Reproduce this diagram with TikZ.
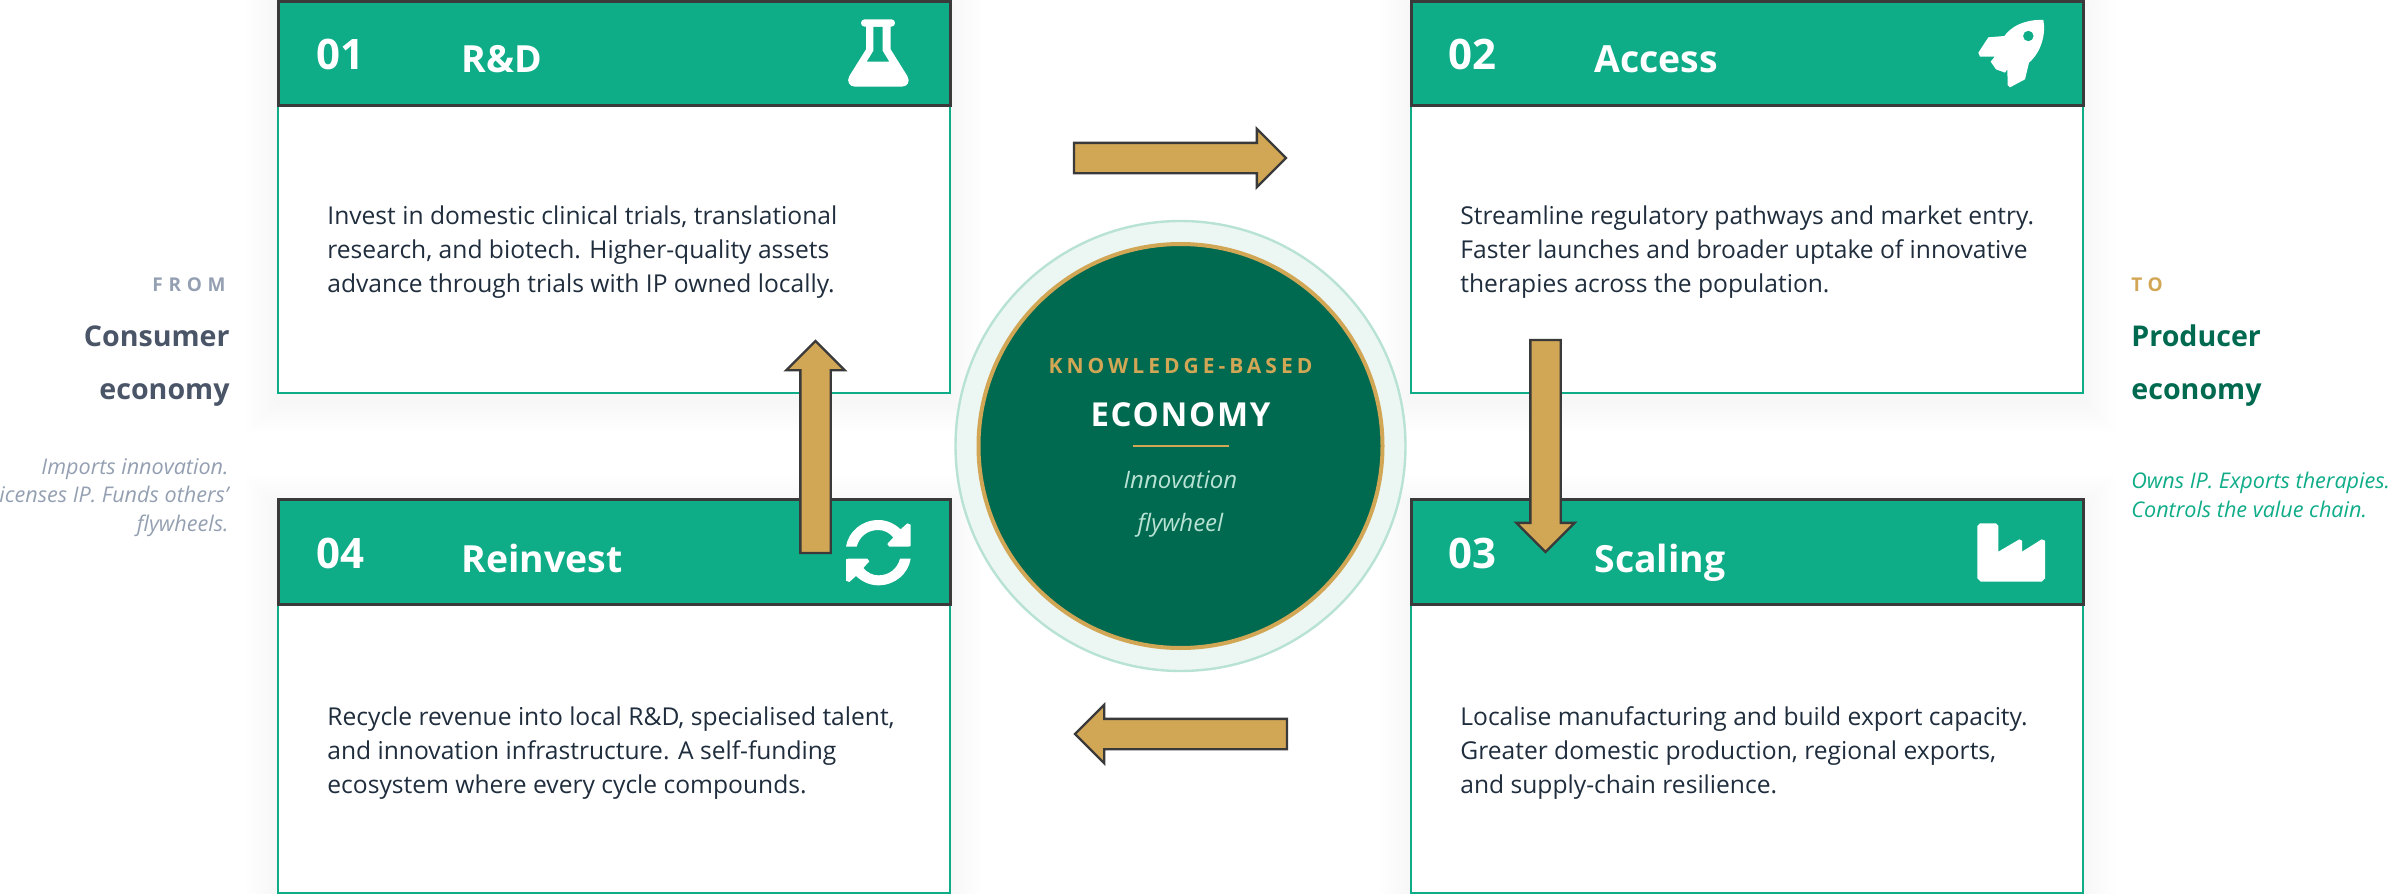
\documentclass[tikz,border=0pt]{standalone}
\usepackage{fontspec}
\setmainfont{Open Sans}
\usetikzlibrary{shapes.arrows}
\definecolor{tealhead}{HTML}{0FAC88}
\definecolor{darkteal}{HTML}{006A50}
\definecolor{goldline}{HTML}{D1A655}
\definecolor{inkdark}{HTML}{1F2D3D}
\definecolor{edgedark}{HTML}{3A3A3A}
\definecolor{slatetext}{HTML}{4A5568}
\definecolor{slatelight}{HTML}{94A0B2}
\definecolor{ringfill}{HTML}{ECF7F3}
\definecolor{ringline}{HTML}{B8E2D4}
\tikzset{
  x=0.5pt, y=-0.5pt,
  cardbody/.style={draw=tealhead, line width=1.2pt, fill=white},
  cardhead/.style={draw=edgedark, line width=1.5pt, fill=tealhead},
  numtext/.style={anchor=base west, inner sep=0pt, text=white, font=\fontsize{21}{24}\selectfont\bfseries},
  titletext/.style={anchor=base west, inner sep=0pt, text=white, font=\fontsize{18.7}{24}\selectfont\bfseries},
  bodytext/.style={anchor=north west, align=left, inner sep=0pt, text=inkdark, font=\fontsize{12.3}{17}\selectfont},
  sidelabel/.style={inner sep=0pt, font=\fontsize{9.5}{12}\selectfont\bfseries\addfontfeature{LetterSpace=30}},
  sidehead/.style={inner sep=0pt, font=\fontsize{14.3}{18}\selectfont\bfseries},
  sidenote/.style={inner sep=0pt, font=\fontsize{10.8}{14.25}\selectfont\itshape},
  flowarrow/.style={single arrow, draw=edgedark, fill=goldline, line width=1.2pt, inner sep=0pt, outer sep=0pt,
    anchor=tail, text height=14pt, text depth=0pt, minimum height=106pt, single arrow head extend=7pt, single arrow tip angle=90},
  iconshape/.style={fill=white, draw=none},
  iconscope/.style={x=0.16667pt, y=-0.16667pt},
}
\begin{document}
\begin{tikzpicture}
  \useasboundingbox (0,0) rectangle (2395,894);
  \clip (0,0) rectangle (2395,894);

  % cards
  \foreach \cx/\cy/\cb/\hb in {278/1/393/105, 1411/1/393/105, 278/499/893/604, 1411/499/893/604} {
    \foreach \g in {4,8,...,32} {
      \fill[black, opacity=.004] (\cx-\g,\cy+8-\g) rectangle (\cx+672+\g,\cb+8+\g);
    }
    \draw[cardbody] (\cx,\cy) rectangle (\cx+672,\cb);
    \draw[cardhead] (\cx,\cy) rectangle (\cx+672,\hb);
  }

  \node[numtext] (numa) at (316,69) {01};
  \node[titletext] (titlea) at (461,72) {R\&D};
  \node[numtext] (numb) at (1448,69) {02};
  \node[titletext] (titleb) at (1594,72) {Access};
  \node[numtext] (numc) at (1448,568) {03};
  \node[titletext] (titlec) at (1594,572) {Scaling};
  \node[numtext] (numd) at (316,568) {04};
  \node[titletext] (titled) at (461,572) {Reinvest};

  \node[bodytext] (bodya) at (327,205) {Invest in domestic clinical trials, translational\\research, and biotech. Higher-quality assets\\advance through trials with IP owned locally.};
  \node[bodytext] (bodyb) at (1460,205) {Streamline regulatory pathways and market entry.\\Faster launches and broader uptake of innovative\\therapies across the population.};
  \node[bodytext] (bodyc) at (1460,706) {Localise manufacturing and build export capacity.\\Greater domestic production, regional exports,\\and supply-chain resilience.};
  \node[bodytext] (bodyd) at (327,706) {Recycle revenue into local R\&D, specialised talent,\\and innovation infrastructure. A self-funding\\ecosystem where every cycle compounds.};

  % icons
  \begin{scope}[shift={(830,10)}, iconscope]
    \fill[iconshape, rounded corners=1.8pt] (93,28) rectangle (195,50);
    \fill[iconshape, even odd rule] (108,40) -- (108,118) -- (58,198) .. controls (48,215) and (60,230) .. (75,230) -- (215,230) .. controls (232,230) and (242,215) .. (232,198) -- (182,118) -- (182,40) -- cycle
      (130,50) -- (158,50) -- (158,122) -- (178,155) -- (110,155) -- (130,122) -- cycle;
  \end{scope}
  \begin{scope}[shift={(1960,10)}, iconscope]
    \fill[iconshape, even odd rule] (250,30) .. controls (220,28) and (165,35) .. (133,78) -- (85,82) -- (55,128) -- (60,140) -- (104,140) -- (92,155) -- (108,178) -- (135,188) -- (142,178) -- (143,225) -- (150,232) -- (195,208) -- (207,158) .. controls (245,125) and (258,70) .. (250,30) -- cycle
      (205,78) circle [radius=16];
  \end{scope}
  \begin{scope}[shift={(830,510)}, iconscope]
    \foreach \r in {0,180} {
      \fill[iconshape, rotate around={\r:(145,128)}] (48,110) .. controls (55,65) and (95,30) .. (145,30) .. controls (172,30) and (195,42) .. (212,58) -- (232,40) -- (242,44) -- (242,108) -- (235,110) -- (178,110) -- (172,102) -- (190,82) .. controls (178,68) and (162,60) .. (145,60) .. controls (112,60) and (88,80) .. (80,110) -- cycle;
    }
  \end{scope}
  \begin{scope}[shift={(1960,510)}, iconscope]
    \fill[iconshape] (60,40) -- (108,40) -- (115,47) -- (115,125) -- (178,88) -- (186,92) -- (186,125) -- (245,88) -- (255,92) -- (255,205) -- (245,215) -- (62,215) -- (52,205) -- (52,48) -- cycle;
  \end{scope}

  % centre
  \draw[fill=ringfill, draw=ringline, line width=1.2pt] (1180.5,446) circle [radius=225];
  \draw[fill=darkteal, draw=goldline, line width=2pt] (1180.5,446) circle [radius=202];
  \node[inner sep=0pt, anchor=base, text=goldline, font=\fontsize{10.5}{13}\selectfont\bfseries\addfontfeature{LetterSpace=19}] (knowledge) at (1180.5,373) {KNOWLEDGE-BASED};
  \node[inner sep=0pt, anchor=base, text=white, font=\fontsize{16.5}{20}\selectfont\bfseries\addfontfeature{LetterSpace=5}] (economy) at (1180.5,426) {ECONOMY};
  \coordinate (rulea) at (1133,446);
  \coordinate (ruleb) at (1229,446);
  \draw[goldline, line width=1.2pt] (rulea) -- (ruleb);
  \node[inner sep=0pt, anchor=base, text=ringline, font=\fontsize{12}{15}\selectfont\itshape] (innov) at (1180.5,488) {Innovation};
  \node[inner sep=0pt, anchor=base, text=ringline, font=\fontsize{12}{15}\selectfont\itshape] (flyw) at (1180.5,531) {flywheel};

  % sides
  \node[sidelabel, anchor=base east, text=slatelight] (from) at (226,291) {FROM};
  \node[sidehead, anchor=base east, text=slatetext] (consumer) at (230,346) {Consumer};
  \node[sidehead, anchor=base east, text=slatetext] (econa) at (230,399) {economy};
  \node[sidenote, anchor=base east, text=slatelight] (impa) at (229,474) {Imports innovation.};
  \node[sidenote, anchor=base east, text=slatelight] (impb) at (229,502) {Licenses IP. Funds others'};
  \node[sidenote, anchor=base east, text=slatelight] (impc) at (229,531) {flywheels.};
  \node[sidelabel, anchor=base west, text=goldline] (to) at (2131,291) {TO};
  \node[sidehead, anchor=base west, text=darkteal] (producer) at (2131,346) {Producer};
  \node[sidehead, anchor=base west, text=darkteal] (econb) at (2131,399) {economy};
  \node[sidenote, anchor=base west, text=tealhead] (ownsa) at (2131,488) {Owns IP. Exports therapies.};
  \node[sidenote, anchor=base west, text=tealhead] (ownsb) at (2131,517) {Controls the value chain.};

  % arrows
  \node[flowarrow] (arrowtop) at (1074,158) {};
  \node[flowarrow, rotate=270] (arrowright) at (1545.5,340) {};
  \node[flowarrow, rotate=180] (arrowbottom) at (1287,734) {};
  \node[flowarrow, rotate=90] (arrowleft) at (815.5,553) {};
\end{tikzpicture}
\end{document}
